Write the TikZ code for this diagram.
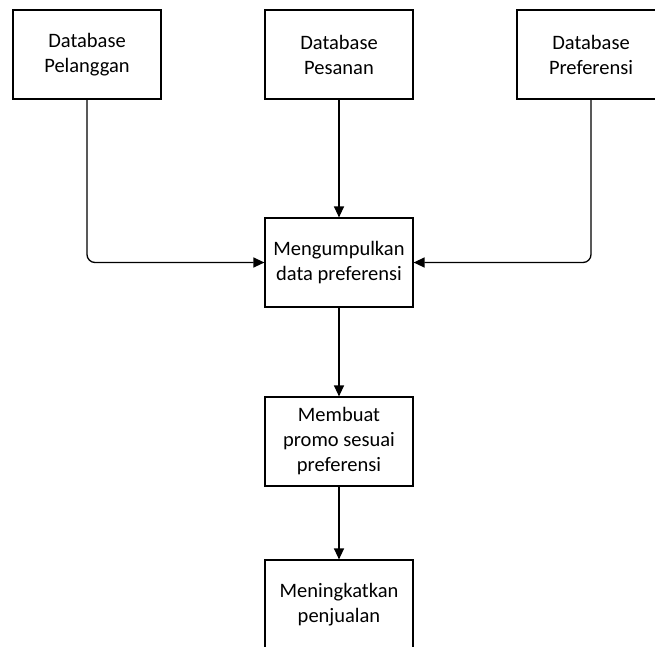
\documentclass[tikz,border=0pt]{standalone}
\usepackage{fontspec}
\setmainfont{Carlito}
\usetikzlibrary{arrows.meta}
\begin{document}
\begin{tikzpicture}[x=1pt,y=-1pt,
  box/.style={draw=black,line width=1.2pt,minimum width=148pt,minimum height=89pt,inner sep=0pt,align=center,
    font=\fontsize{20.5pt}{25pt}\selectfont},
  conn/.style={draw=black,line width=1.3pt,-{Triangle[length=11pt,width=10pt]}}]
\useasboundingbox (0,0) rectangle (655,646);
\clip (0,0) rectangle (655,646);
\node[box] (pel) at (87,54.5) {Database\\Pelanggan};
\node[box] (pes) at (339,54.5) {Database\\Pesanan};
\node[box] (pref) at (591,54.5) {Database\\Preferensi};
\node[box] (mid) at (339,262.5) {Mengumpulkan\\data preferensi};
\node[box] (promo) at (339,441.5) {Membuat\\promo sesuai\\preferensi};
\node[box] (jual) at (339,604.5) {Meningkatkan\\penjualan};
\draw[conn,rounded corners=8pt] (pel.south) |- (mid.west);
\draw[conn,rounded corners=8pt] (pref.south) |- (mid.east);
\draw[conn] (pes.south) -- (mid.north);
\draw[conn] (mid.south) -- (promo.north);
\draw[conn] (promo.south) -- (jual.north);
\end{tikzpicture}
\end{document}
